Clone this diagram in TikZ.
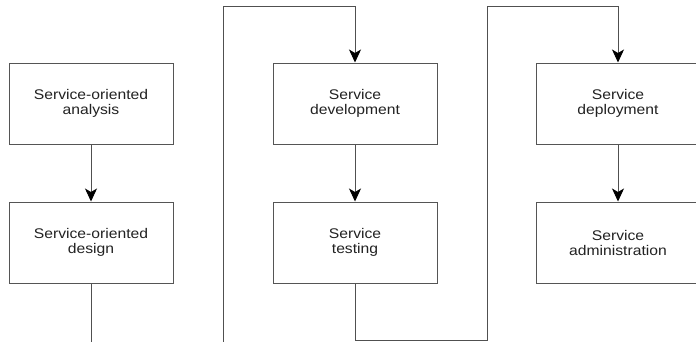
\documentclass[tikz,border=0pt]{standalone}
\usepackage{fontspec}
\setmainfont{Liberation Sans}[FakeStretch=1.12]
\usetikzlibrary{arrows.meta}
\definecolor{edgegray}{HTML}{555555}
\definecolor{wiregray}{HTML}{505050}
\definecolor{textgray}{HTML}{222222}
\begin{document}
\begin{tikzpicture}[x=1pt,y=-1pt,
  stage/.style={draw=edgegray, line width=1pt, rectangle, minimum width=164pt,
    minimum height=81pt, inner sep=0pt, align=center, text=textgray,
    font=\fontsize{14}{15}\selectfont},
  wire/.style={draw=wiregray, line width=1pt},
  flow/.style={wire, -{Stealth[length=13pt, width=12pt, inset=3.5pt, color=black]}}]
  \useasboundingbox (0,0) rectangle (696,341);
  \fill[white] (0,0) rectangle (696,341);

  % stages, two per column
  \node[stage] (ana) at (91,103.5) {Service-oriented\\analysis};
  \node[stage] (des) at (91,242.5) {Service-oriented\\design};
  \node[stage] (dev) at (355,103.5) {Service\\development};
  \node[stage] (tst) at (355,242.5) {Service\\testing};
  \node[stage] (dep) at (618,103.5) {Service\\deployment};
  \node[stage] (adm) at (618,242.5) {Service\\administration};

  % loose ends running off the lower edge, and the top bends
  \coordinate (desout) at (91,345);
  \coordinate (loopin) at (223,345);
  \coordinate (looptop) at (223,6);
  \coordinate (tstbend) at (487,340);
  \coordinate (tsttop) at (487,6);

  % connectors
  \draw[flow] (ana) -- (des);
  \draw[flow] (dev) -- (tst);
  \draw[flow] (dep) -- (adm);
  \draw[wire] (des) -- (desout);
  \draw[flow] (loopin) -- (looptop) -| (dev.north);
  \draw[flow] (tst.south) |- (tstbend) -- (tsttop) -| (dep.north);
\end{tikzpicture}
\end{document}
